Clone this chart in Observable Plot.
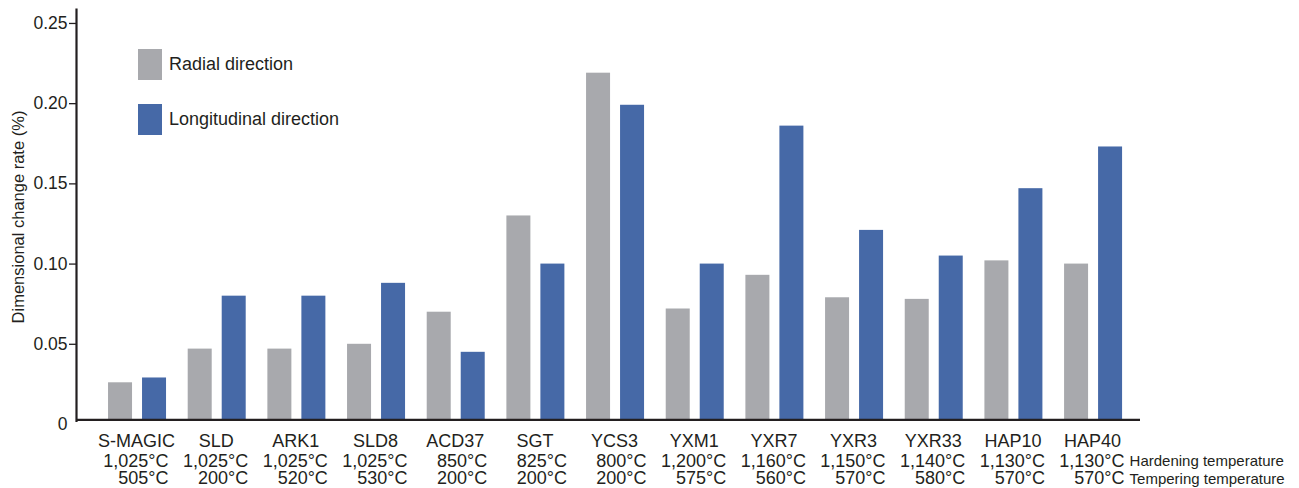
<!DOCTYPE html>
<html>
<head>
<meta charset="utf-8">
<script src="https://cdn.jsdelivr.net/npm/d3@7"></script>
<script src="https://cdn.jsdelivr.net/npm/@observablehq/plot@0.6"></script>
<style>
  html, body { margin: 0; padding: 0; background: #fff; }
  #wrap { position: relative; width: 1299px; height: 488px; font-family: "Liberation Sans", Arial, Helvetica, sans-serif; color: #231f20; }
  #wrap svg { display: block; }
  .legend { position: absolute; left: 138px; display: flex; align-items: center; font-size: 18px; }
  .legend .sw { width: 24px; height: 31px; margin-right: 7px; }
</style>
</head>
<body>
<div id="wrap"></div>
<script>
// ---- data ----
const names = ["S-MAGIC", "SLD", "ARK1", "SLD8", "ACD37", "SGT", "YCS3", "YXM1", "YXR7", "YXR3", "YXR33", "HAP10", "HAP40"];
const hardening = ["1,025°C", "1,025°C", "1,025°C", "1,025°C", "850°C", "825°C", "800°C", "1,200°C", "1,160°C", "1,150°C", "1,140°C", "1,130°C", "1,130°C"];
const tempering = ["505°C", "200°C", "520°C", "530°C", "200°C", "200°C", "200°C", "575°C", "560°C", "570°C", "580°C", "570°C", "570°C"];
const radial = [0.026, 0.047, 0.047, 0.050, 0.070, 0.130, 0.219, 0.072, 0.093, 0.079, 0.078, 0.102, 0.100];
const longitudinal = [0.029, 0.080, 0.080, 0.088, 0.045, 0.100, 0.199, 0.100, 0.186, 0.121, 0.105, 0.147, 0.173];
const yTicks = [0.05, 0.10, 0.15, 0.20, 0.25];
const seriesNames = ["Radial direction", "Longitudinal direction"];
const rowLabels = ["Hardening temperature", "Tempering temperature"];
const yTitle = "Dimensional change rate (%)";

const GRAY = "#a8a9ad";
const BLUE = "#4669a7";
const INK = "#231f20";

const data = names.map((n, i) => ({name: n, radial: radial[i], longitudinal: longitudinal[i], hard: hardening[i], temp: tempering[i]}));

const step = 79.67;
const r0 = 97.2;
const bw = step;
const barW = 24;
const inA = bw / 2 - 29;
const inB = bw - inA - barW;

const plot = Plot.plot({
  width: 1299,
  height: 488,
  marginLeft: 76,
  marginRight: 159,
  marginTop: 9,
  marginBottom: 64,
  style: {fontFamily: '"Liberation Sans", Arial, Helvetica, sans-serif', color: INK, background: "transparent", overflow: "visible"},
  x: {type: "band", domain: names, range: [r0, r0 + step * names.length], padding: 0, round: false, axis: null},
  y: {domain: [0, 0.2587], axis: null},
  marks: [
    Plot.barY(data, {x: "name", y: "radial", fill: GRAY, insetLeft: inA, insetRight: inB, insetBottom: 4}),
    Plot.barY(data, {x: "name", y: "longitudinal", fill: BLUE, insetLeft: inB, insetRight: inA, insetBottom: 4}),
    Plot.ruleY([0], {stroke: INK, strokeWidth: 2.2, dy: -4.6}),
    Plot.frame({anchor: "left", stroke: INK, strokeWidth: 2.2, insetBottom: 3.5}),
    Plot.axisY(yTicks, {tickSize: 7, tickPadding: 2, tickFormat: d => d.toFixed(2), fontSize: 17.5, stroke: INK, strokeWidth: 1.3, fill: INK, label: null}),
    Plot.axisY([0], {tickSize: 0, tickPadding: 9, tickFormat: () => "0", fontSize: 17.5, fill: INK, label: null}),
    Plot.text([yTitle], {frameAnchor: "left", textAnchor: "middle", lineAnchor: "middle", rotate: -90, dx: -58, text: d => d, fontSize: 16.5, fill: INK}),
    Plot.text(data, {x: "name", frameAnchor: "bottom", lineAnchor: "middle", dy: 17, dx: -1, text: "name", fontSize: 18, fill: INK}),
    Plot.text(data, {x: "name", frameAnchor: "bottom", lineAnchor: "middle", dy: 36.5, dx: 31, textAnchor: "end", text: "hard", fontSize: 18, fill: INK}),
    Plot.text(data, {x: "name", frameAnchor: "bottom", lineAnchor: "middle", dy: 54, dx: 31, textAnchor: "end", text: "temp", fontSize: 18, fill: INK}),
    Plot.text([{name: names[names.length - 1], t: rowLabels[0]}], {x: "name", frameAnchor: "bottom", lineAnchor: "middle", dy: 37, dx: 36, textAnchor: "start", text: "t", fontSize: 15, fill: INK}),
    Plot.text([{name: names[names.length - 1], t: rowLabels[1]}], {x: "name", frameAnchor: "bottom", lineAnchor: "middle", dy: 54.5, dx: 36, textAnchor: "start", text: "t", fontSize: 15, fill: INK})
  ]
});

const wrap = document.getElementById("wrap");
wrap.appendChild(plot);

const legendTops = [49, 104];
const legendColors = [GRAY, BLUE];
seriesNames.forEach((s, i) => {
  const el = document.createElement("div");
  el.className = "legend";
  el.style.top = legendTops[i] + "px";
  el.innerHTML = `<div class="sw" style="background:${legendColors[i]}"></div><span>${s}</span>`;
  wrap.appendChild(el);
});
</script>
</body>
</html>
